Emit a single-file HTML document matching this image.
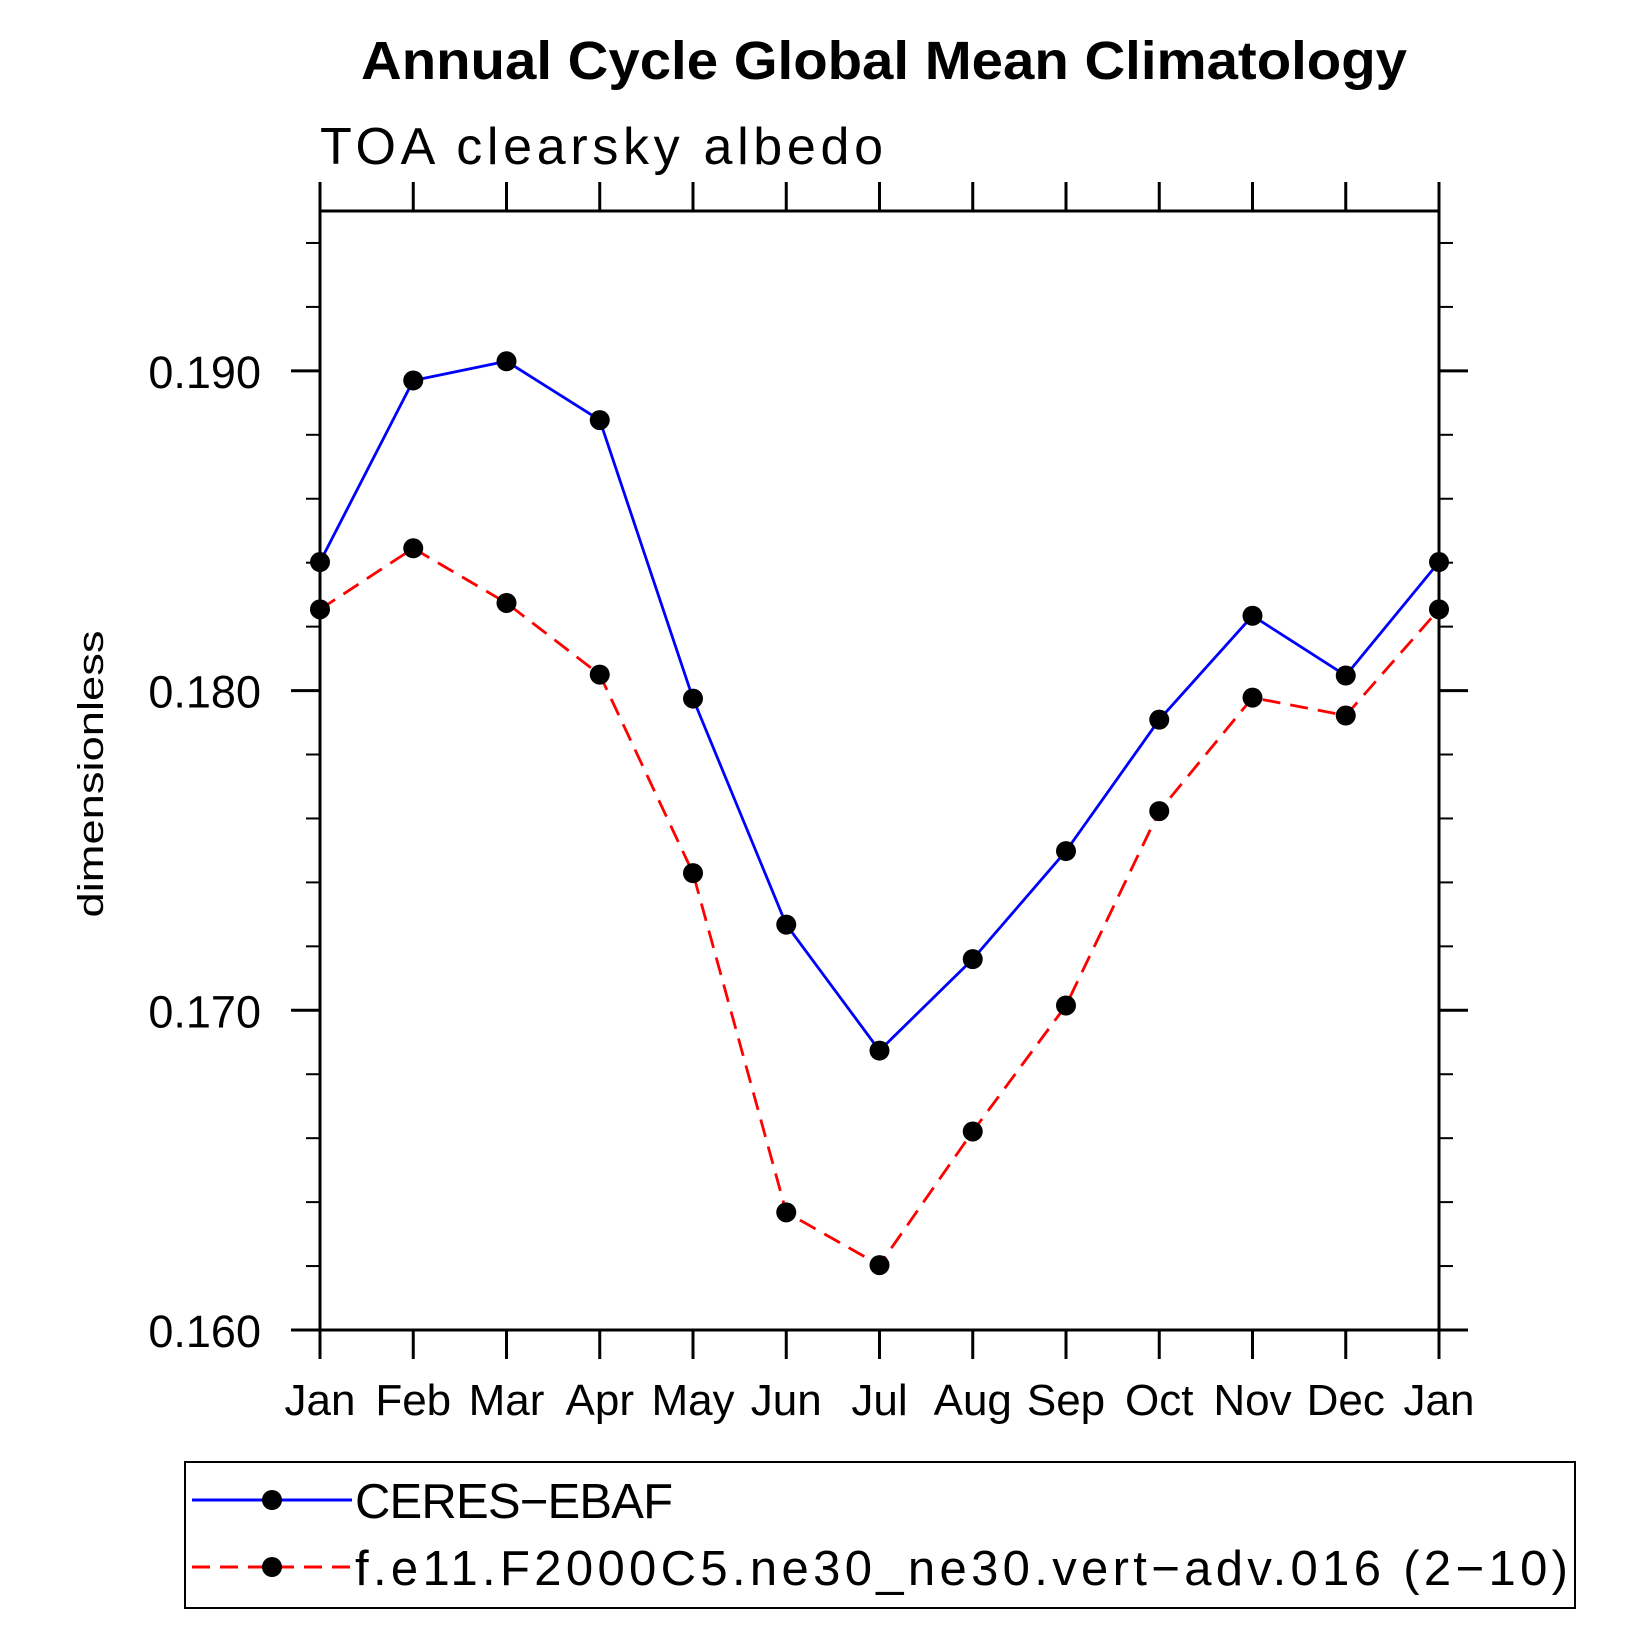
<!DOCTYPE html>
<html><head><meta charset="utf-8"><style>html,body{margin:0;padding:0;background:#fff}svg{display:block}text{font-family:"Liberation Sans",sans-serif}</style></head>
<body>
<svg id="chart" width="1647" height="1647" viewBox="0 0 1647 1647" xmlns="http://www.w3.org/2000/svg">
<text x="884" y="79" font-size="54" font-weight="bold" text-anchor="middle" textLength="1046" lengthAdjust="spacingAndGlyphs">Annual Cycle Global Mean Climatology</text>
<text x="320" y="164" font-size="52" textLength="563">TOA clearsky albedo</text>
<text transform="translate(103,774) rotate(-90)" font-size="36" text-anchor="middle" textLength="287" lengthAdjust="spacingAndGlyphs">dimensionless</text>
<g id="axes"></g>
<g id="series"></g>
<g>
<rect x="185" y="1462" width="1390" height="146" fill="none" stroke="#000" stroke-width="2"/>
<g>
<line x1="192" y1="1500" x2="352" y2="1500" stroke="#0000ff" stroke-width="3"/>
<circle cx="272" cy="1500" r="10"/>
<text x="355" y="1518" font-size="49" textLength="318">CERES−EBAF</text>
</g>
<g>
<line x1="192" y1="1567" x2="352" y2="1567" stroke="#ff0000" stroke-width="3" stroke-dasharray="18,10"/>
<circle cx="272" cy="1567" r="10"/>
<text x="355" y="1585" font-size="49" textLength="1213">f.e11.F2000C5.ne30_ne30.vert−adv.016 (2−10)</text>
</g>
</g>
</svg>
<script>
const months = ["Jan","Feb","Mar","Apr","May","Jun","Jul","Aug","Sep","Oct","Nov","Dec","Jan"];
const ceresValues = [0.18402,0.18970,0.19030,0.18846,0.17975,0.17268,0.16874,0.17160,0.17498,0.17909,0.18234,0.18047,0.18402];
const modelValues = [0.18254,0.18445,0.18274,0.18050,0.17429,0.16368,0.16203,0.16621,0.17015,0.17623,0.17978,0.17922,0.18254];
const yTickValues = [0.160,0.170,0.180,0.190];
const yTickLabels = ["0.160","0.170","0.180","0.190"];
const yMin = 0.160, yMax = 0.195;

const L=320,R=1439,T=211,B=1330;
const NS="http://www.w3.org/2000/svg";
function xs(i){return L+(R-L)*i/(months.length-1);}
function ys(v){return B-(B-T)*(v-yMin)/(yMax-yMin);}
function mk(tag,attrs,parent){const e=document.createElementNS(NS,tag);for(const k in attrs)e.setAttribute(k,attrs[k]);parent.appendChild(e);return e;}
const axes=document.getElementById('axes');
const frame=mk('rect',{x:L,y:T,width:R-L,height:B-T,fill:'none',stroke:'#000','stroke-width':3},axes);


for(let i=0;i<months.length;i++){
  const x=xs(i);
  const tb=mk('line',{x1:x,y1:B,x2:x,y2:B+29,stroke:'#000','stroke-width':3},axes);
  
  
  const tt=mk('line',{x1:x,y1:T,x2:x,y2:T-29,stroke:'#000','stroke-width':3},axes);
  
  
  const lb=mk('text',{x:x,y:1415,'font-size':44,'text-anchor':'middle'},axes);
  lb.textContent=months[i];
  
  
}
for(let v=yMin;v<=yMax+1e-9;v+=0.002){
  const y=ys(v);
  const isMajor=Math.abs((v-yMin)/0.01-Math.round((v-yMin)/0.01))<1e-6;
  const len=isMajor?29:14;
  const a=mk('line',{x1:L-len,y1:y,x2:L,y2:y,stroke:'#000','stroke-width':isMajor?3:2},axes);
  
  
  const b=mk('line',{x1:R,y1:y,x2:R+len,y2:y,stroke:'#000','stroke-width':isMajor?3:2},axes);
  
  
}
yTickValues.forEach((v,i)=>{
  const t=mk('text',{x:261,y:ys(v)+17,'font-size':45,'text-anchor':'end'},axes);
  t.textContent=yTickLabels[i];
  
  
});
const ser=document.getElementById('series');
function drawSeries(vals,color,dash,name){
  const g=mk('g',{},ser);
  
  
  const pts=vals.map((v,i)=>xs(i)+','+ys(v)).join(' ');
  const pl=mk('polyline',{points:pts,fill:'none',stroke:color,'stroke-width':2.8},g);
  if(dash)pl.setAttribute('stroke-dasharray',dash);
  
  
  vals.forEach((v,i)=>{
    const c=mk('circle',{cx:xs(i),cy:ys(v),r:10,fill:'#000'},g);
    
    
  });
}
drawSeries(ceresValues,'#0000ff',null,'ceres-ebaf-series');
drawSeries(modelValues,'#ff0000','18,10','model-series');
</script>
</body></html>
